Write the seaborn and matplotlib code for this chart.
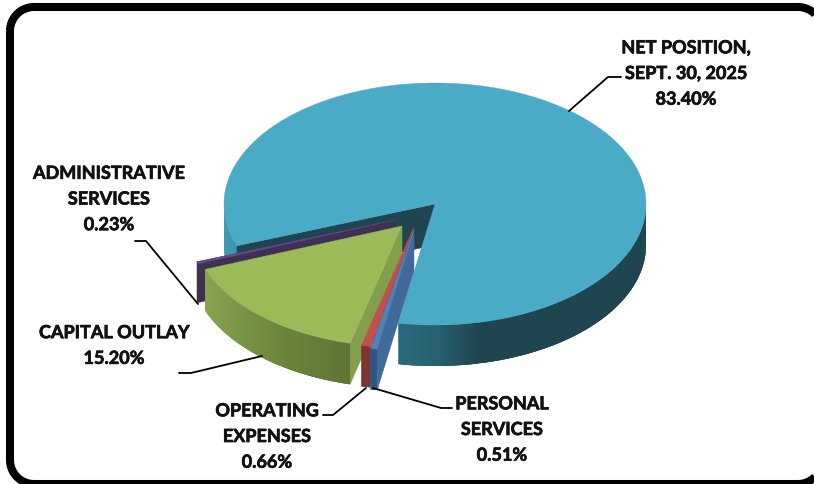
import numpy as np
import seaborn as sns
import matplotlib.pyplot as plt
import matplotlib.patheffects as pe

labels = ['NET POSITION,\nSEPT. 30, 2025', 'PERSONAL\nSERVICES', 'OPERATING\nEXPENSES',
          'CAPITAL OUTLAY', 'ADMINISTRATIVE\nSERVICES']
values = [83.40, 0.51, 0.66, 15.20, 0.23]

# layout, in pixels of the 814x485 picture
centers = [(435, 205), (414, 231), (413.5, 229), (402, 227), (395, 221)]
label_pos = [(686, 73), (502, 429), (267, 436), (114, 345), (109, 198.5)]
leaders = [[(569, 112), (608, 78), (621, 78)],
           [(373, 389), (441, 409), (452, 409)],
           [(366, 389), (333, 416), (323, 416)],
           [(262, 357), (191, 374), (179, 374)],
           [(198, 305), (146, 242), (135, 242)]]
rx, ry, depth = 211, 121, 41
start = 159.8

sns.set_theme(style='white')
plt.rcParams['font.family'] = ['Lato', 'DejaVu Sans']

fig, ax = plt.subplots(figsize=(8.14, 4.85), dpi=100)
ax.set_position([0, 0, 1, 1])
ax.set_xlim(0, 814)
ax.set_ylim(485, 0)
ax.axis('off')

# angles run clockwise on screen, from the values
sweeps = [v / sum(values) * 360 for v in values]
edges = start + np.cumsum([0] + sweeps)
spans = list(zip(edges[:-1], edges[1:]))


def rim(c, a):
    a = np.radians(a)
    return c[0] + rx * np.cos(a), c[1] + ry * np.sin(a)


def top(c, a0, a1, color, z):
    t = np.linspace(a0, a1, max(int(abs(a1 - a0)) * 2, 3))
    x, y = rim(c, t)
    ax.fill(np.r_[c[0], x], np.r_[c[1], y], color=color, lw=0.3, zorder=z)


def cut(c, a, color, z):
    x, y = rim(c, a)
    ax.fill([c[0], x, x, c[0]], [c[1], y, y + depth, c[1] + depth], color=color, lw=0.3, zorder=z)


def wall(c, a0, a1, colors, z):
    # strips lap over the next one so no seams show
    n = max(int(abs(a1 - a0)) * 3, 2)
    t = np.linspace(a0, a1, n + 1)
    pal = sns.blend_palette(colors, n)
    for i in range(n):
        x, y = rim(c, np.linspace(t[i], t[min(i + 3, n)], 6))
        ax.fill(np.r_[x, x[::-1]], np.r_[y, y[::-1] + depth], color=pal[i], lw=0, zorder=z)


# net position
a0, a1 = spans[0]
wall(centers[0], a0, 180, ['#3f95ae', '#3f9ab4'], 1)
wall(centers[0], a1 - 360 - 22, 0, ['#1f4650', '#1f4650'], 1)
wall(centers[0], a1 - 360, a1 - 360 - 22, ['#2b6b7e', '#27606f', '#1f4650'], 1)
cut(centers[0], a0, '#1f4650', 2)
top(centers[0], a0, a1, '#4aabc6', 3)

# administrative services
a0, a1 = spans[4]
cut(centers[4], a1, '#403152', 4)
top(centers[4], a0 - 0.2, a1, '#64498a', 4)

# capital outlay
a0, a1 = spans[3]
cut(centers[3], a0, '#839e4c', 5)
wall(centers[3], a1, a0, ['#8aa551', '#7a9647', '#6a833c', '#5e7536'], 5)
top(centers[3], a0, a1, '#9bbb59', 6)

# operating expenses
a0, a1 = spans[2]
cut(centers[2], a0, '#a04340', 7)
wall(centers[2], a0, a1, ['#7f3432', '#7f3432'], 7)
top(centers[2], a0, a1, '#c0504d', 8)

# personal services
a0, a1 = spans[1]
cut(centers[1], a0, '#41699a', 9)
wall(centers[1], a0, a1, ['#2f5783', '#2f5783'], 9)
top(centers[1], a0, a1, '#4f81bd', 10)

for pts in leaders:
    ax.plot(*zip(*pts), color='black', lw=1.3, zorder=11, solid_joinstyle='miter')

for lab, v, pos in zip(labels, values, label_pos):
    ax.text(pos[0], pos[1] + 1.5, f'{lab}\n{v:.2f}%', ha='center', va='center', fontsize=13,
            fontweight='bold', color='#111111', linespacing=1.62, zorder=12,
            path_effects=[pe.withStroke(linewidth=0.5, foreground='#111111')])

# rounded border, running off the right and bottom of the picture
x0, y0, x1, y1, r = 10, 8, 822, 485, 24
corners = [(x0 + r, y0 + r, 180, 270), (x1 - r, y0 + r, 270, 360),
           (x1 - r, y1 - r, 0, 90), (x0 + r, y1 - r, 90, 180)]
fx, fy = [], []
for cx, cy, t0, t1 in corners:
    t = np.radians(np.linspace(t0, t1, 20))
    fx += list(cx + r * np.cos(t))
    fy += list(cy + r * np.sin(t))
ax.fill(fx, fy, fc='none', ec='black', lw=5.8, zorder=13)

fig.savefig('out.png', dpi=100, facecolor='white')
